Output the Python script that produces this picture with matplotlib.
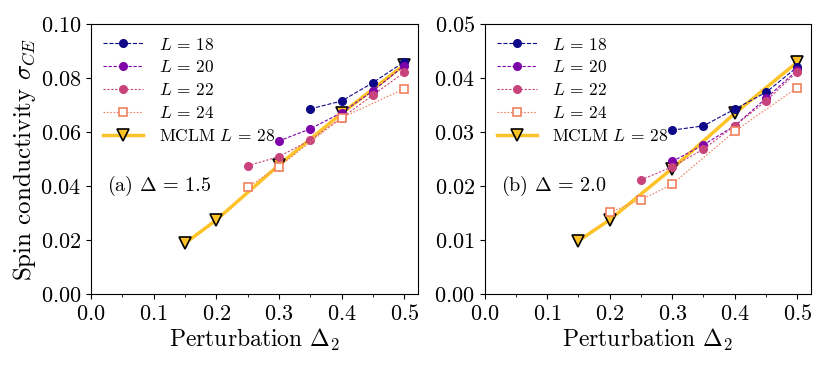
import matplotlib
matplotlib.use('Agg')
import matplotlib.pyplot as plt
from matplotlib.ticker import MultipleLocator

plt.rcParams['font.family'] = 'serif'
plt.rcParams['font.serif'] = ['cmr10', 'DejaVu Serif']
plt.rcParams['mathtext.fontset'] = 'cm'
plt.rcParams['axes.formatter.use_mathtext'] = True

# ── Data: panel (a) Delta = 1.5 ────────────────────────────────────────
a_x18 = [0.35, 0.40, 0.45, 0.50]
a_y18 = [0.0687, 0.0716, 0.0784, 0.0861]
a_x20 = [0.30, 0.35, 0.40, 0.45, 0.50]
a_y20 = [0.0568, 0.0613, 0.0673, 0.0753, 0.0847]
a_x22 = [0.25, 0.30, 0.35, 0.40, 0.45, 0.50]
a_y22 = [0.0476, 0.0510, 0.0571, 0.0653, 0.0738, 0.0822]
a_x24 = [0.25, 0.30, 0.40, 0.50]
a_y24 = [0.0397, 0.0473, 0.0654, 0.0761]
a_xm  = [0.15, 0.20, 0.30, 0.40, 0.50]
a_ym  = [0.0189, 0.0275, 0.0479, 0.0670, 0.0850]

# ── Data: panel (b) Delta = 2.0 ────────────────────────────────────────
b_x18 = [0.30, 0.35, 0.40, 0.45, 0.50]
b_y18 = [0.0304, 0.0312, 0.0343, 0.0374, 0.0421]
b_x20 = [0.30, 0.35, 0.40, 0.45, 0.50]
b_y20 = [0.0246, 0.0277, 0.0312, 0.0363, 0.0415]
b_x22 = [0.25, 0.30, 0.35, 0.40, 0.45, 0.50]
b_y22 = [0.0212, 0.0236, 0.0269, 0.0312, 0.0358, 0.0412]
b_x24 = [0.20, 0.25, 0.30, 0.40, 0.50]
b_y24 = [0.0152, 0.0175, 0.0204, 0.0302, 0.0383]
b_xm  = [0.15, 0.20, 0.30, 0.40, 0.50]
b_ym  = [0.0099, 0.0138, 0.0233, 0.0335, 0.0430]

C18 = '#0d0887'
C20 = '#7e03a8'
C22 = '#c8437c'
C24 = '#f0805e'
CM  = '#fdc328'

fig = plt.figure(figsize=(8.3, 3.69), dpi=100)
ax1 = fig.add_axes([0.1096, 0.2024, 0.394, 0.7316])
ax2 = fig.add_axes([0.5839, 0.2024, 0.3932, 0.7316])


def draw(ax, d18, d20, d22, d24, dm, ymax, ystep, tag):
    ax.plot(*d18, '--', color=C18, lw=0.8, marker='o', ms=5.5,
            label=r'$L\,=\,18$', zorder=4)
    ax.plot(*d20, color=C20, lw=0.8, ls=(0, (3, 1.5)), marker='o', ms=5.5,
            label=r'$L\,=\,20$', zorder=4)
    ax.plot(*d22, color=C22, lw=0.8, ls=(0, (2, 1.5)), marker='o', ms=5.5,
            label=r'$L\,=\,22$', zorder=4)
    ax.plot(*d24, color=C24, lw=0.8, ls=(0, (1.5, 1.5)), marker='s', ms=5.5,
            mfc='white', mec=C24, mew=1.2, label=r'$L\,=\,24$', zorder=5)
    ax.plot(*dm, '-', color=CM, lw=2.5, marker='v', ms=9, mfc=CM, mec='black',
            mew=1.2, label=r'MCLM $L\,=\,28$', zorder=2)
    ax.set_xlim(0, 0.522)
    ax.set_ylim(0, ymax)
    ax.xaxis.set_major_locator(MultipleLocator(0.1))
    ax.xaxis.set_minor_locator(MultipleLocator(0.05))
    ax.yaxis.set_major_locator(MultipleLocator(ystep))
    ax.tick_params(labelsize=16)
    ax.set_xlabel(r'Perturbation $\Delta_2$', fontsize=17, labelpad=2)
    ax.legend(loc='upper left', frameon=False, fontsize=12.5, handlelength=2.3,
              borderaxespad=0.3, labelspacing=0.4, handletextpad=0.9)
    ax.text(0.05, 0.40, tag, transform=ax.transAxes, fontsize=14.5, va='center')


draw(ax1, (a_x18, a_y18), (a_x20, a_y20), (a_x22, a_y22), (a_x24, a_y24),
     (a_xm, a_ym), 0.10, 0.02, r'(a) $\Delta\,=\,1.5$')
draw(ax2, (b_x18, b_y18), (b_x20, b_y20), (b_x22, b_y22), (b_x24, b_y24),
     (b_xm, b_ym), 0.05, 0.01, r'(b) $\Delta\,=\,2.0$')

ax1.set_ylabel(r'Spin conductivity $\sigma_{CE}$', fontsize=18, labelpad=2)

fig.savefig('out.png', dpi=100, facecolor='white')
